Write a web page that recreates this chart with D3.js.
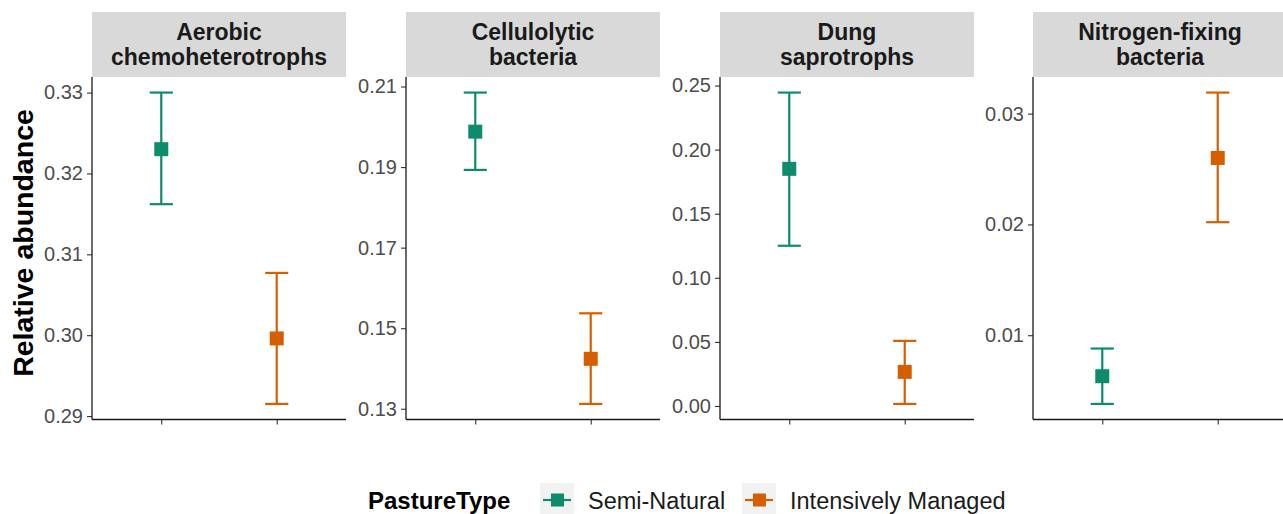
<!DOCTYPE html>
<html>
<head>
<meta charset="utf-8">
<script src="https://cdn.jsdelivr.net/npm/d3@7"></script>
<style>
  body { margin: 0; background: #fff; }
  svg { display: block; font-family: "Liberation Sans", Arial, sans-serif; }
  .tick text { fill: #4d4d4d; }
</style>
</head>
<body>
<svg id="chart" width="1283" height="514"></svg>
<script>
// facets and groups
const panels = ['Aerobic\nchemoheterotrophs', 'Cellulolytic\nbacteria', 'Dung\nsaprotrophs', 'Nitrogen-fixing\nbacteria'];
const groups = ['Semi-Natural', 'Intensively Managed'];
const colors = ['#0e8a6d', '#d55e00'];

// mean and error bar limits, one entry per panel: [semi-natural, intensively managed]
const means = [[0.3230, 0.2996], [0.1988, 0.1424], [0.1850, 0.0266], [0.0063, 0.0260]];
const lower = [[0.3162, 0.2915], [0.1893, 0.1312], [0.1250, 0.0016], [0.0038, 0.0202]];
const upper = [[0.3300, 0.3077], [0.2085, 0.1537], [0.2445, 0.0508], [0.0088, 0.0319]];

// y tick values / labels per panel
const tickVals = [
  [0.29, 0.30, 0.31, 0.32, 0.33],
  [0.13, 0.15, 0.17, 0.19, 0.21],
  [0.00, 0.05, 0.10, 0.15, 0.20, 0.25],
  [0.01, 0.02, 0.03]
];
const tickLabels = [
  ['0.29', '0.30', '0.31', '0.32', '0.33'],
  ['0.13', '0.15', '0.17', '0.19', '0.21'],
  ['0.00', '0.05', '0.10', '0.15', '0.20', '0.25'],
  ['0.01', '0.02', '0.03']
];

const svg = d3.select('#chart');
const panelLeft = [92, 406, 720, 1033];
const panelW = 254;
const plotTop = 77, plotBottom = 419.5;
const stripTop = 12;

// y title
svg.append('text')
  .attr('transform', 'translate(33,243) rotate(-90)')
  .attr('text-anchor', 'middle')
  .attr('font-size', 28.5)
  .attr('font-weight', 'bold')
  .attr('fill', '#000')
  .text('Relative abundance');

panels.forEach((name, pi) => {
  const g = svg.append('g').attr('transform', `translate(${panelLeft[pi]},0)`);

  // strip
  g.append('rect')
    .attr('x', 0).attr('y', stripTop)
    .attr('width', panelW).attr('height', plotTop - stripTop)
    .attr('fill', '#d9d9d9');
  name.split('\n').forEach((line, li) => {
    g.append('text')
      .attr('x', panelW / 2).attr('y', 40 + li * 25)
      .attr('text-anchor', 'middle')
      .attr('font-size', 23)
      .attr('font-weight', 'bold')
      .attr('fill', '#1a1a1a')
      .text(line);
  });

  // scales, ggplot-style 5% expansion on the error bar range
  const lo = d3.min(lower[pi]), hi = d3.max(upper[pi]);
  const pad = (hi - lo) * 0.05;
  const y = d3.scaleLinear().domain([lo - pad, hi + pad]).range([plotBottom, plotTop]);
  const x = d3.scaleLinear().domain([0.4, 2.6]).range([0, panelW]);

  // axes
  const yAxis = g.append('g')
    .call(d3.axisLeft(y).tickValues(tickVals[pi])
      .tickFormat((d, i) => tickLabels[pi][i])
      .tickSize(5).tickPadding(4));
  yAxis.select('.domain').remove();
  yAxis.selectAll('.tick line').attr('stroke', '#333').attr('stroke-width', 1.1);
  yAxis.selectAll('.tick text').attr('font-size', 20).attr('font-family', null);

  const xAxis = g.append('g')
    .attr('transform', `translate(0,${plotBottom})`)
    .call(d3.axisBottom(x).tickValues([1, 2]).tickFormat('').tickSize(5));
  xAxis.select('.domain').remove();
  xAxis.selectAll('.tick line').attr('stroke', '#333').attr('stroke-width', 1.1);

  g.append('line')
    .attr('x1', 0).attr('x2', 0).attr('y1', plotTop).attr('y2', plotBottom)
    .attr('stroke', '#1a1a1a').attr('stroke-width', 1.3);
  g.append('line')
    .attr('x1', 0).attr('x2', panelW).attr('y1', plotBottom).attr('y2', plotBottom)
    .attr('stroke', '#1a1a1a').attr('stroke-width', 1.3);

  // error bars and points
  groups.forEach((grp, gi) => {
    const cx = x(gi + 1);
    const cap = x(1.1) - x(1);
    const c = colors[gi];
    g.append('line')
      .attr('x1', cx).attr('x2', cx)
      .attr('y1', y(lower[pi][gi])).attr('y2', y(upper[pi][gi]))
      .attr('stroke', c).attr('stroke-width', 2.2);
    [lower[pi][gi], upper[pi][gi]].forEach(v => {
      g.append('line')
        .attr('x1', cx - cap).attr('x2', cx + cap)
        .attr('y1', y(v)).attr('y2', y(v))
        .attr('stroke', c).attr('stroke-width', 2.2);
    });
    g.append('rect')
      .attr('x', cx - 7).attr('y', y(means[pi][gi]) - 7)
      .attr('width', 14).attr('height', 14)
      .attr('fill', c);
  });
});

// legend
const legY = 500;
const legend = svg.append('g');
legend.append('text')
  .attr('x', 368).attr('y', legY + 8.5)
  .attr('font-size', 24).attr('font-weight', 'bold').attr('fill', '#000')
  .text('PastureType');

const keyX = [540, 742];
const labelX = [588, 790];
groups.forEach((grp, gi) => {
  const k = legend.append('g').attr('transform', `translate(${keyX[gi]},${legY})`);
  k.append('rect').attr('x', 0).attr('y', -17).attr('width', 34).attr('height', 34).attr('fill', '#f2f2f2');
  k.append('line').attr('x1', 3).attr('x2', 31).attr('y1', 0).attr('y2', 0)
    .attr('stroke', colors[gi]).attr('stroke-width', 2.2);
  k.append('rect').attr('x', 11).attr('y', -6.5).attr('width', 13).attr('height', 13).attr('fill', colors[gi]);
  legend.append('text')
    .attr('x', labelX[gi]).attr('y', legY + 8.5)
    .attr('font-size', 23.5).attr('fill', '#1a1a1a')
    .text(grp);
});
</script>
</body>
</html>
